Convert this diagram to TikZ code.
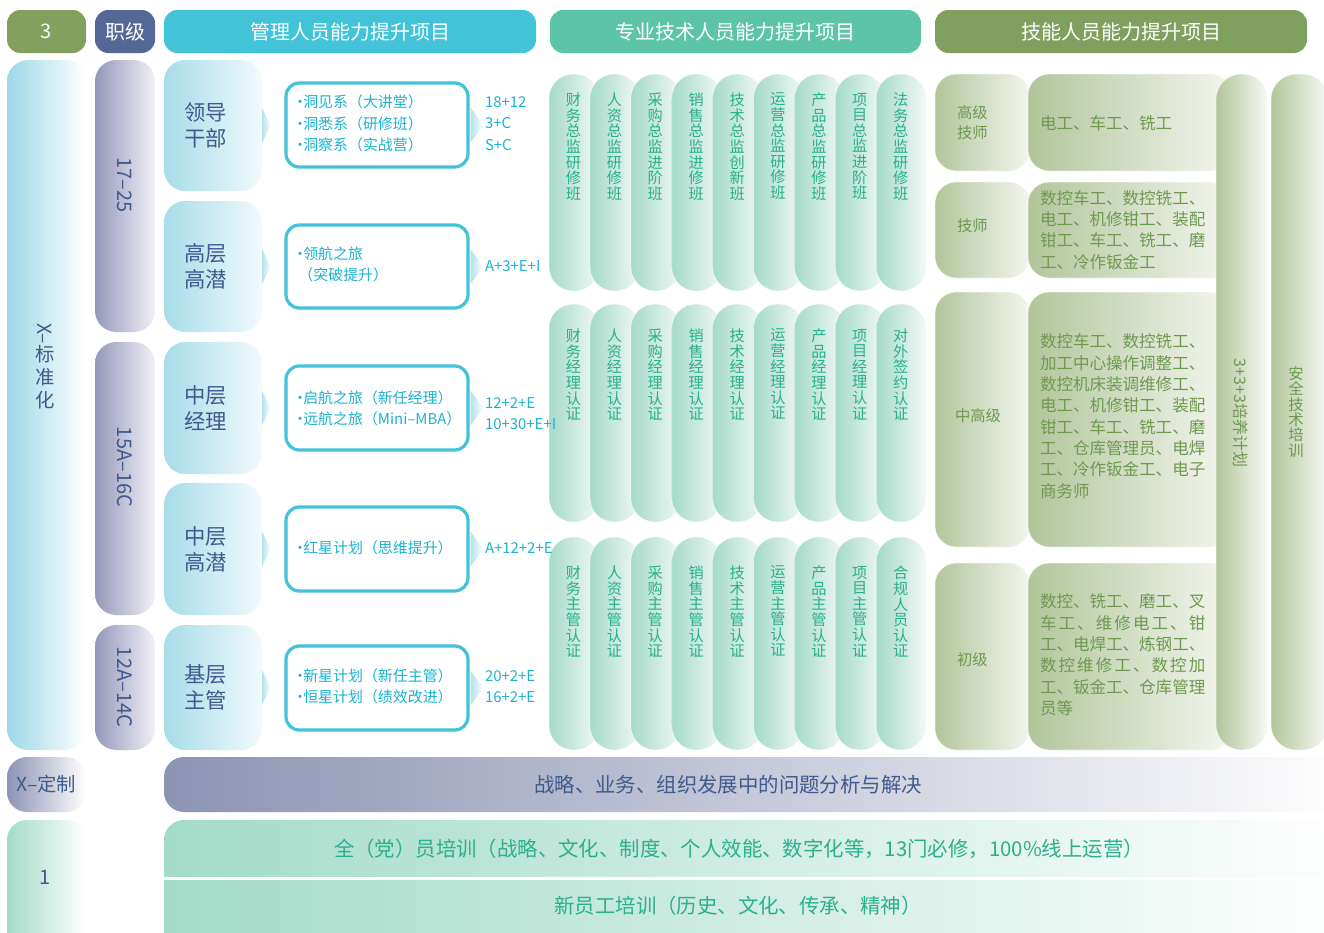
\documentclass[tikz,border=0pt]{standalone}
\usepackage{fontspec}
\usepackage{graphicx}
\setmainfont{Noto Sans CJK SC}
\usetikzlibrary{fit,calc}
\definecolor{cOl}{HTML}{83A05E}
\definecolor{cSl}{HTML}{536895}
\definecolor{cCy}{HTML}{42C3D8}
\definecolor{cTe}{HTML}{5EC4A7}
\definecolor{cSk}{HTML}{80A05F}
\definecolor{tBlue}{HTML}{3F5A8C}
\definecolor{tCy}{HTML}{1DB3CF}
\definecolor{tTe}{HTML}{2AB08C}
\definecolor{tSk}{HTML}{6E9A50}
\definecolor{gCyL}{HTML}{A6DCE9}
\definecolor{gCyR}{HTML}{F2FAFC}
\definecolor{gXL}{HTML}{9CD8E6}
\definecolor{gGrL}{HTML}{9597BA}
\definecolor{gGrR}{HTML}{F1F1F6}
\definecolor{gTeL}{HTML}{A4DAC8}
\definecolor{gTeR}{HTML}{F2F9F6}
\definecolor{gSkL}{HTML}{B2C59A}
\definecolor{gSkR}{HTML}{F4F6F0}
\definecolor{gB1L}{HTML}{8D93B3}
\definecolor{gB2L}{HTML}{A2DBC8}
\makeatletter
\def\vs@loop#1{\ifx#1\@nil\else\hbox to 1em{\hss#1\hss}\expandafter\vs@loop\fi}
\newcommand\vstk[1]{\vbox{\edef\vs@arg{#1}\expandafter\vs@loop\vs@arg\@nil}}
\def\jl@loop#1{\ifx#1\@nil\else\jl@sep#1\let\jl@sep\hfil\expandafter\jl@loop\fi}
\newcommand\jline[1]{\hbox to 10em{\let\jl@sep\relax\jl@loop#1\@nil}}
\makeatother
\newcommand\dt{\makebox[0.42em]{·}}
\begin{document}
\begin{tikzpicture}[x=0.75pt,y=-0.75pt,
  every node/.style={inner sep=0pt,outer sep=0pt},
  hdr/.style={rounded corners=10pt},
  hdrt/.style={text=white,font=\fontsize{15}{18}\selectfont},
  xstd/.style={rounded corners=16pt,left color=gXL,right color=white},
  grade/.style={rounded corners=16pt,left color=gGrL,right color=gGrR},
  gradet/.style={text=tBlue,font=\fontsize{15}{18}\selectfont,rotate=-90},
  lvl/.style={rounded corners=16pt,left color=gCyL,right color=gCyR},
  lvlt/.style={text=tBlue,font=\fontsize{16}{19.5}\selectfont,align=left,anchor=west},
  prog/.style={rounded corners=10pt,draw=cCy,line width=2.4pt,fill=white},
  progt/.style={text=tCy,font=\fontsize{11.2}{16}\selectfont,align=left,anchor=west},
  chev/.style={left color=gCyL!85!white,right color=white},
  pill/.style={rounded corners=18pt,left color=gTeL,right color=gTeR,draw=white,draw opacity=0.7,line width=0.5pt},
  pillt/.style={text=tTe,font=\fontsize{11.4}{11.7}\selectfont,anchor=north},
  skb/.style={rounded corners=16pt,left color=gSkL,right color=gSkR,draw=white,draw opacity=0.6,line width=0.5pt},
  skpill/.style={rounded corners=19pt,left color=gSkL,right color=gSkR!60!white,draw=white,draw opacity=0.6,line width=0.5pt},
  sklt/.style={text=tSk,font=\fontsize{11.5}{15}\selectfont,align=left,anchor=west},
  skt/.style={text=tSk,font=\fontsize{12.4}{16}\selectfont,align=left,anchor=west},
  botb/.style={rounded corners=15pt,left color=gB1L,right color=white},
  bott/.style={rounded corners=15pt,left color=gB2L,right color=white},
]
\useasboundingbox (0,0) rectangle (1324,932);
\clip (0,0) rectangle (1324,932);
\fill[white] (0,0) rectangle (1324,932);

% ---------- headers ----------
\node[hdr,fill=cOl,fit={(7,10)(86,53)}] (h3) {};
\node[hdrt] (h3t) at (46.5,31.5) {3};
\node[hdr,fill=cSl,fit={(95,10)(155,53)}] (hjb) {};
\node[hdrt] (hjbt) at (125,31.5) {职级};
\node[hdr,fill=cCy,fit={(164,10)(536,53)}] (hmg) {};
\node[hdrt] (hmgt) at (350,31.5) {管理人员能力提升项目};
\node[hdr,fill=cTe,fit={(550,10)(921,53)}] (hpr) {};
\node[hdrt] (hprt) at (735.5,31.5) {专业技术人员能力提升项目};
\node[hdr,fill=cSk,fit={(935,10)(1307,53)}] (hsk) {};
\node[hdrt] (hskt) at (1121,31.5) {技能人员能力提升项目};

% ---------- left column ----------
\node[xstd,fit={(7,60)(86,750)}] (xs) {};
\node[text=tBlue,font=\fontsize{14.5}{17}\selectfont] (xst) at (45,366)
  {\vbox{\hbox to 1em{\hss\rotatebox{-90}{X–}\hss}\hbox to 1em{\hss 标\hss}\hbox to 1em{\hss 准\hss}\hbox to 1em{\hss 化\hss}}};

\node[grade,fit={(95,60)(155,332)}] (g1) {};
\node[gradet] (g1t) at (125,185) {17–25};
\node[grade,fit={(95,342)(155,615)}] (g2) {};
\node[gradet] (g2t) at (125,467) {15A–16C};
\node[grade,fit={(95,625)(155,750)}] (g3) {};
\node[gradet] (g3t) at (125,687) {12A–14C};

% ---------- management ----------
\node[lvl,fit={(164,60)(262,191)}] (lv1) {};
\node[lvl,fit={(164,201)(262,332)}] (lv2) {};
\node[lvl,fit={(164,342)(262,474)}] (lv3) {};
\node[lvl,fit={(164,483)(262,615)}] (lv4) {};
\node[lvl,fit={(164,625)(262,750)}] (lv5) {};
\node[lvlt] (lv1t) at (184,125.5) {领导\\干部};
\node[lvlt] (lv2t) at (184,266.5) {高层\\高潜};
\node[lvlt] (lv3t) at (184,408) {中层\\经理};
\node[lvlt] (lv4t) at (184,549) {中层\\高潜};
\node[lvlt] (lv5t) at (184,687.5) {基层\\主管};

\node[prog,fit={(286,83)(468,167)}] (pg1) {};
\node[prog,fit={(286,225)(468,308)}] (pg2) {};
\node[prog,fit={(286,366)(468,450)}] (pg3) {};
\node[prog,fit={(286,507)(468,591)}] (pg4) {};
\node[prog,fit={(286,646)(468,730)}] (pg5) {};
\node[progt] (pg1t) at (297,123.5) {\dt 洞见系（大讲堂）\\\dt 洞悉系（研修班）\\\dt 洞察系（实战营）};
\node[progt] (pg2t) at (297,264.5) {\dt 领航之旅\\\hspace{0.1em}（突破提升）};
\node[progt] (pg3t) at (297,408) {\dt 启航之旅（新任经理）\\\dt 远航之旅（Mini–MBA）};
\node[progt] (pg4t) at (297,548) {\dt 红星计划（思维提升）};
\node[progt] (pg5t) at (297,686.5) {\dt 新星计划（新任主管）\\\dt 恒星计划（绩效改进）};

\foreach \i in {1,...,5}{
  \path[chev] ([yshift=13pt]lv\i.east) -- ([xshift=6.5pt]lv\i.east) -- ([yshift=-13pt]lv\i.east) -- cycle;
  \path[chev] ([xshift=2pt,yshift=13pt]pg\i.east) -- ([xshift=11.5pt]pg\i.east) -- ([xshift=2pt,yshift=-13pt]pg\i.east) -- cycle;
}

% ---------- professional ----------
\foreach \t [count=\i from 0] in {财务总监研修班,人资总监研修班,采购总监进阶班,销售总监进修班,技术总监创新班,运营总监研修班,产品总监研修班,项目总监进阶班,法务总监研修班}{
  \pgfmathsetmacro\xl{549+40.9*\i}
  \node[pill,fit={(\xl,74)(\xl+50,291)}] (pa\i) {};
  \node[pillt] (pat\i) at (\xl+24.5,93) {\vstk{\t}};
}
\foreach \t [count=\i from 0] in {财务经理认证,人资经理认证,采购经理认证,销售经理认证,技术经理认证,运营经理认证,产品经理认证,项目经理认证,对外签约认证}{
  \pgfmathsetmacro\xl{549+40.9*\i}
  \node[pill,fit={(\xl,304)(\xl+50,522)}] (pb\i) {};
  \node[pillt] (pbt\i) at (\xl+24.5,329) {\vstk{\t}};
}
\foreach \t [count=\i from 0] in {财务主管认证,人资主管认证,采购主管认证,销售主管认证,技术主管认证,运营主管认证,产品主管认证,项目主管认证,合规人员认证}{
  \pgfmathsetmacro\xl{549+40.9*\i}
  \node[pill,fit={(\xl,537)(\xl+50,750)}] (pc\i) {};
  \node[pillt] (pct\i) at (\xl+24.5,566) {\vstk{\t}};
}

% numbers (drawn after pills)
\node[progt] (n1) at (485,123.5) {18+12\\3+C\\S+C};
\node[progt] (n2) at (485,266) {A+3+E+I};
\node[progt] (n3) at (485,413.5) {12+2+E\\10+30+E+I};
\node[progt] (n4) at (485,548) {A+12+2+E};
\node[progt] (n5) at (485,686.5) {20+2+E\\16+2+E};

% ---------- skills ----------
\node[skb,fit={(935,74)(1030,171)}] (sl1) {};
\node[skb,fit={(935,182)(1030,278)}] (sl2) {};
\node[skb,fit={(935,292)(1030,547)}] (sl3) {};
\node[skb,fit={(935,563)(1030,750)}] (sl4) {};
\node[skb,fit={(1028,74)(1232,171)}] (sd1) {};
\node[skb,fit={(1028,182)(1232,278)}] (sd2) {};
\node[skb,fit={(1028,292)(1232,547)}] (sd3) {};
\node[skb,fit={(1028,563)(1232,750)}] (sd4) {};
\node[sklt] (sl1t) at (957,123) {高级\\技师};
\node[sklt] (sl2t) at (957,226) {技师};
\node[sklt] (sl3t) at (955,416) {中高级};
\node[sklt] (sl4t) at (957,660) {初级};
\node[skt] (sd1t) at (1040,123) {电工、车工、铣工};
\node[skt] (sd2t) at (1040,230) {数控车工、数控铣工、\\电工、机修钳工、装配\\钳工、车工、铣工、磨\\工、冷作钣金工};
\node[skt] (sd3t) at (1040,416) {数控车工、数控铣工、\\加工中心操作调整工、\\数控机床装调维修工、\\电工、机修钳工、装配\\钳工、车工、铣工、磨\\工、仓库管理员、电焊\\工、冷作钣金工、电子\\商务师};
\node[skt] (sd4t) at (1040,655) {数控、铣工、磨工、叉\\\jline{车工、维修电工、钳}\\工、电焊工、炼钢工、\\\jline{数控维修工、数控加}\\工、钣金工、仓库管理\\员等};

\node[skpill,fit={(1216,74)(1268,750)}] (p333) {};
\node[text=tSk,font=\fontsize{12}{14}\selectfont,rotate=-90] (p333t) at (1241,413) {3+3+3培养计划};
\node[skpill,fit={(1271,74)(1328,750)}] (psafe) {};
\node[text=tSk,font=\fontsize{11.5}{11.5}\selectfont] (psafet) at (1296,412) {\vstk{安全技术培训}};

% ---------- bottom ----------
\node[botb,fit={(7,757)(86,812)}] (xc) {};
\node[text=tBlue,font=\fontsize{14.5}{17}\selectfont] (xct) at (46.5,784.5) {X–定制};
\node[botb,fit={(164,757)(1350,812)}] (bar1) {};
\node[text=tBlue,font=\fontsize{15.3}{18}\selectfont] (bar1t) at (728,785) {战略、业务、组织发展中的问题分析与解决};

\node[bott,fit={(7,820)(86,960)}] (one) {};
\node[text=tBlue,font=\fontsize{15}{18}\selectfont] (onet) at (45,877) {1};
\node[bott,fit={(164,820)(1350,960)}] (bar2) {};
\coordinate (sepl) at (164,878.5);
\coordinate (sepr) at (1324,878.5);
\draw[white,line width=1.6pt] (sepl) -- (sepr);
\node[text=tTe,font=\fontsize{15.3}{18}\selectfont] (bar2t) at (739,849) {全（党）员培训（战略、文化、制度、个人效能、数字化等，13门必修，100\%线上运营）};
\node[text=tTe,font=\fontsize{15.3}{18}\selectfont] (bar3t) at (738,906) {新员工培训（历史、文化、传承、精神）};
\end{tikzpicture}
\end{document}
